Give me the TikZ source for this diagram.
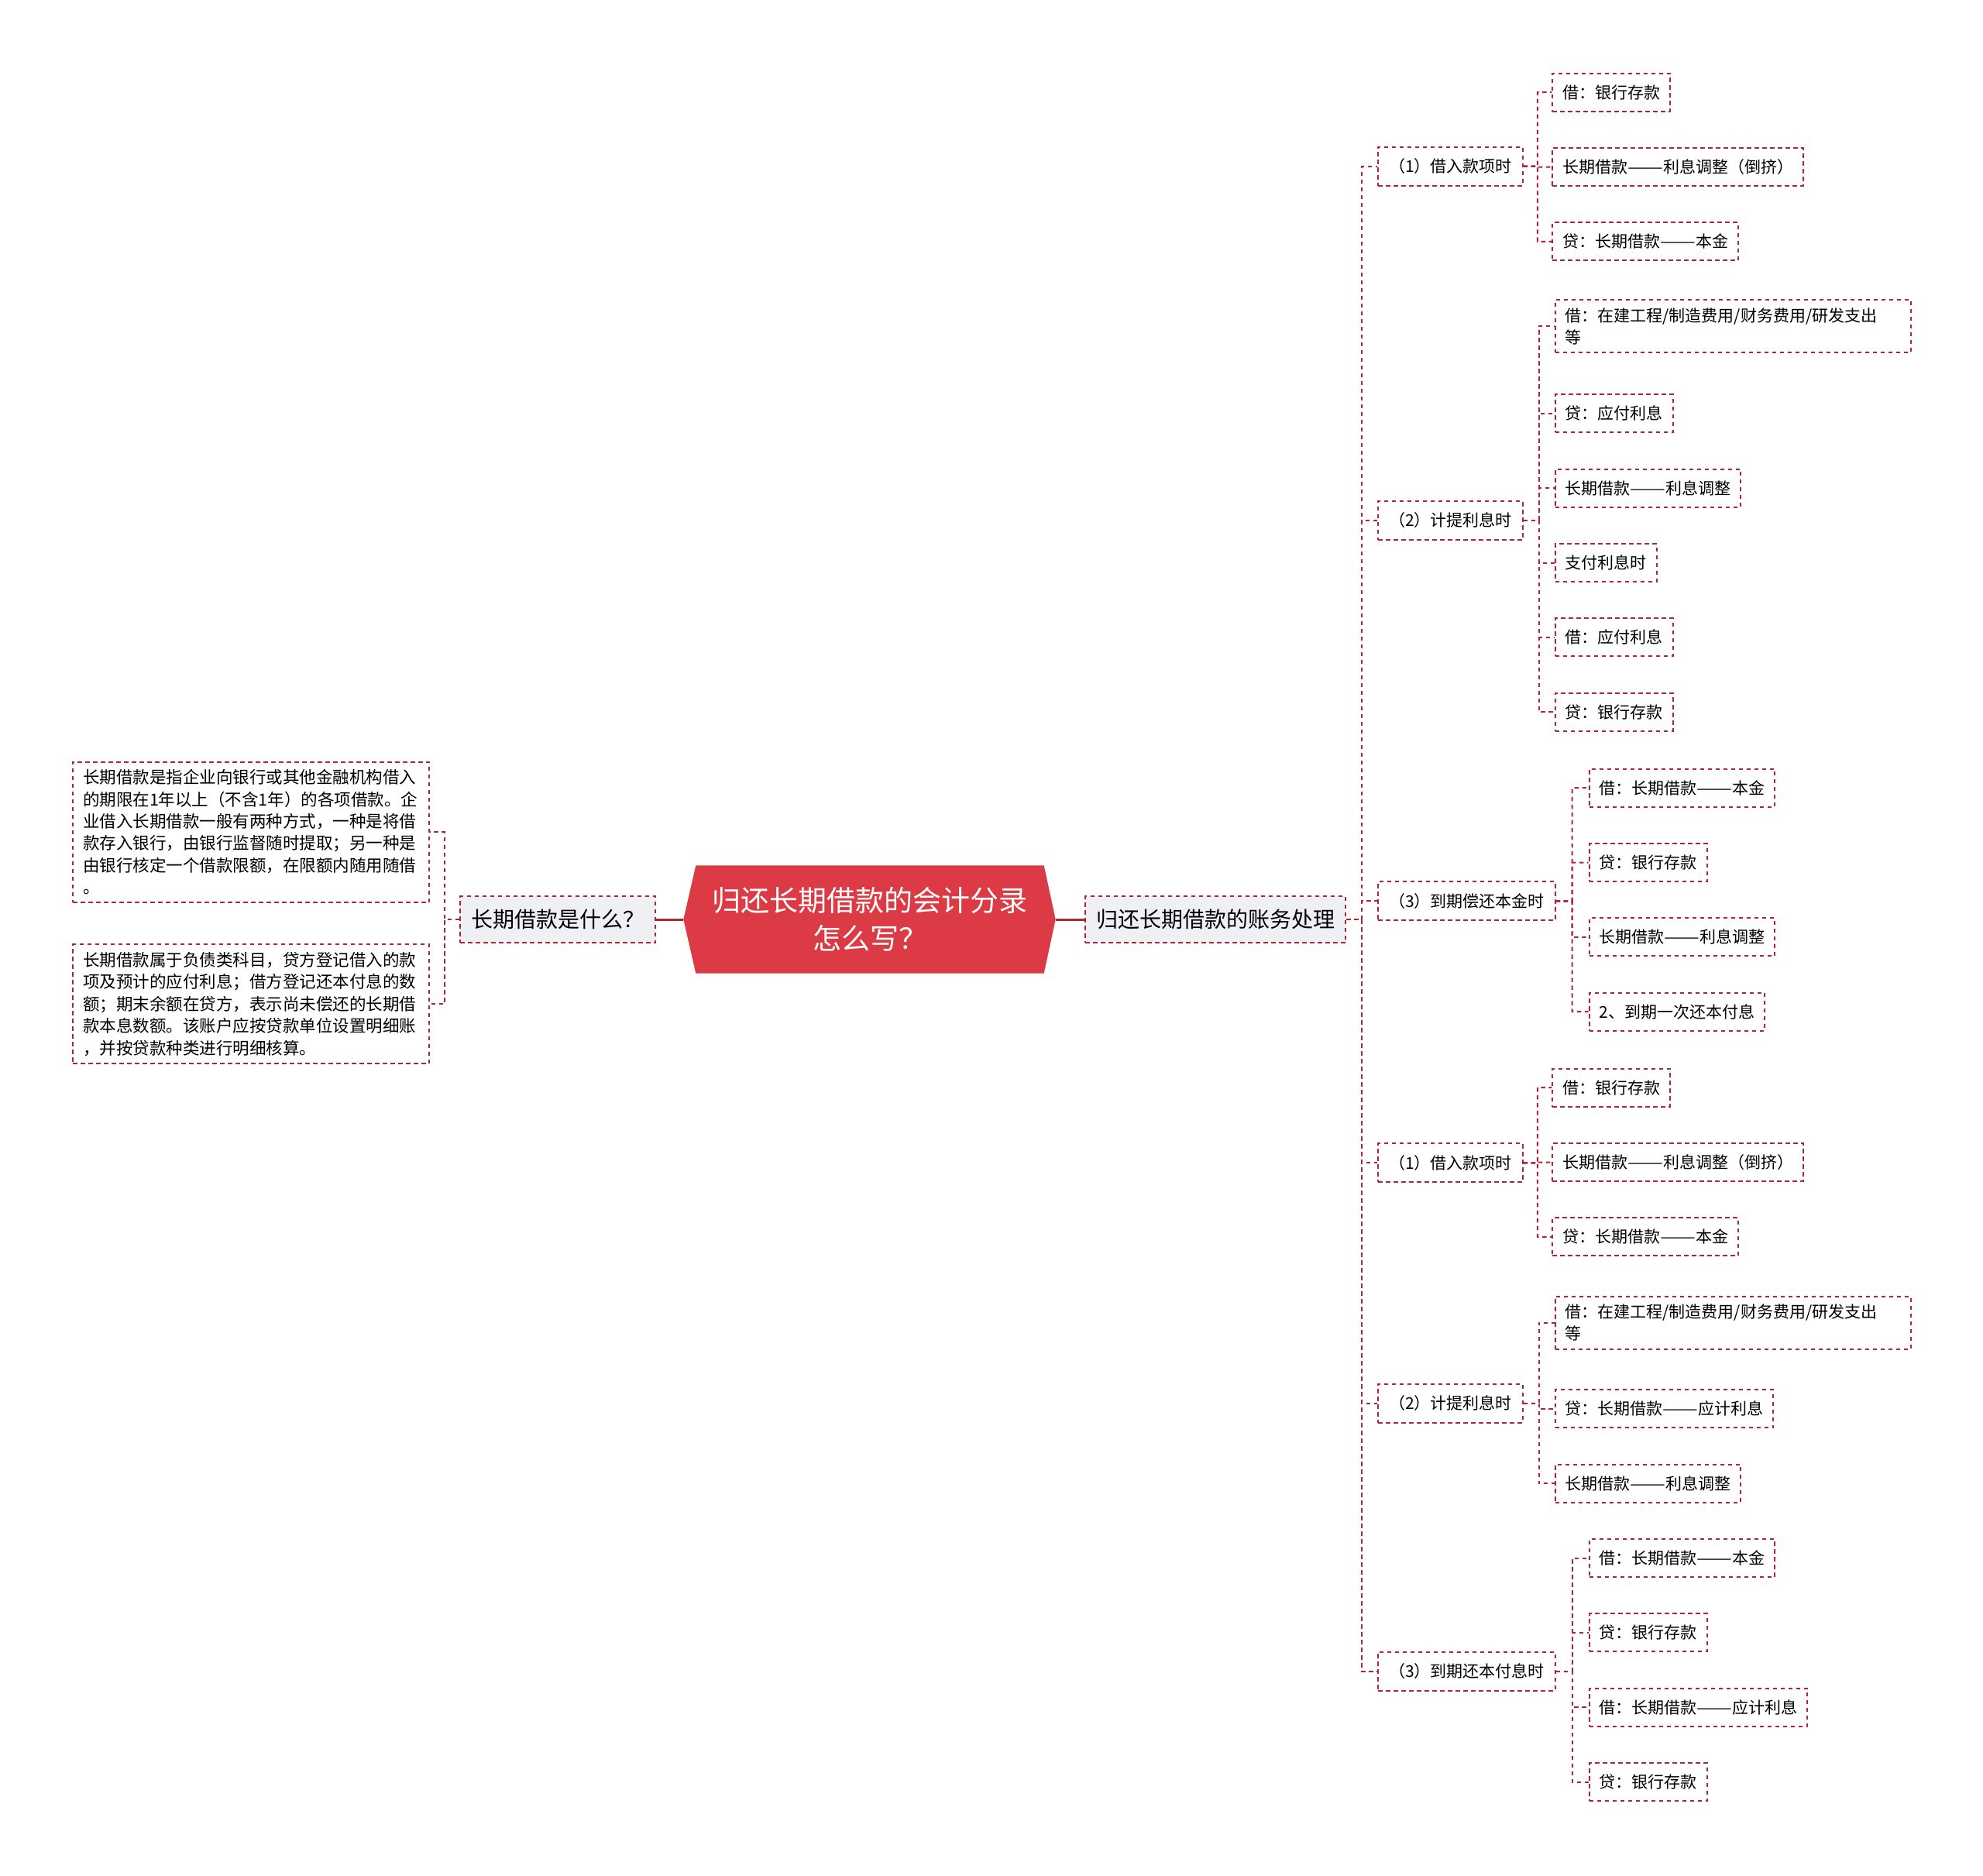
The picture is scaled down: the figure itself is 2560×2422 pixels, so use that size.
\documentclass[tikz,border=0pt]{standalone}
\usepackage{fontspec}
\setmainfont{Noto Sans CJK SC}
\usetikzlibrary{calc,backgrounds}
\definecolor{bord}{RGB}{176,36,54}
\definecolor{rootred}{RGB}{220,58,68}
\definecolor{lgray}{RGB}{238,240,244}
\newcommand\dd{\scalebox{1.3}[1]{——}}
\tikzset{
  box/.style={draw=bord, dash pattern=on 5.5pt off 4.5pt, line width=2pt, fill=white,
    inner xsep=13pt, inner ysep=0pt, minimum height=49pt, anchor=west,
    font=\fontsize{21}{28}\selectfont},
  lvtwo/.style={box, inner xsep=14pt, minimum height=50pt, font=\fontsize{21}{28}\selectfont},
  branch/.style={box, fill=lgray, inner xsep=14pt, minimum height=60pt, anchor=center,
    font=\fontsize{28}{34}\selectfont},
  desc/.style={box, align=left, inner ysep=10pt, text width=434pt,
    font=\fontsize{21.5}{28.4}\selectfont},
  twoline/.style={box, align=left, inner ysep=10.5pt, text width=433pt},
  conn/.style={draw=bord, dash pattern=on 5.5pt off 4.5pt, line width=2pt},
  solidconn/.style={draw=bord, line width=3pt},
  rootnode/.style={text=white, align=center, minimum width=449pt, minimum height=139pt,
    inner sep=0pt, font=\fontsize{37}{49}\selectfont}
}
\newcommand\elbowR[2]{\draw[conn] (#1.east) -- ($(#1.east)!.5!(#1.east -| #2.west)$) |- (#2.west);}
\newcommand\elbowL[2]{\draw[conn] (#1.west) -- ($(#1.west)!.5!(#1.west -| #2.east)$) |- (#2.east);}
\begin{document}
\begin{tikzpicture}[x=1pt,y=-1pt]
\useasboundingbox (0,0) rectangle (2560,2422);

% root
\node[rootnode] (root) at (1123,1187) {归还长期借款的会计分录\\怎么写？};
\begin{scope}[on background layer]
\fill[white] (0,0) rectangle (2560,2422);
\fill[rootred] (root.north west) -- (root.north east) -- ([xshift=15pt]root.east)
  -- (root.south east) -- (root.south west) -- ([xshift=-16pt]root.west) -- cycle;
\end{scope}

% main branches
\node[branch] (rb) at (1569,1187) {归还长期借款的账务处理};
\node[branch] (lb) at (720,1187) {长期借款是什么？};
\draw[solidconn] ([xshift=15pt]root.east) -- (rb.west);
\draw[solidconn] (lb.east) -- ([xshift=-16pt]root.west);

% left descriptions
\node[desc] (la) at (93,1074.3) {长期借款是指企业向银行或其他金融机构借入\\的期限在1年以上（不含1年）的各项借款。企\\业借入长期借款一般有两种方式，一种是将借\\款存入银行，由银行监督随时提取；另一种是\\由银行核定一个借款限额，在限额内随用随借\\。};
\node[desc] (lc) at (93,1296.4) {长期借款属于负债类科目，贷方登记借入的款\\项及预计的应付利息；借方登记还本付息的数\\额；期末余额在贷方，表示尚未偿还的长期借\\款本息数额。该账户应按贷款单位设置明细账\\，并按贷款种类进行明细核算。};
\elbowL{lb}{la}
\elbowL{lb}{lc}

% level 2
\node[lvtwo] (a1) at (1778,214.7) {（1）借入款项时};
\node[lvtwo] (a2) at (1778,671.9) {（2）计提利息时};
\node[lvtwo] (a3) at (1778,1163.3) {（3）到期偿还本金时};
\node[lvtwo] (a4) at (1778,1501.3) {（1）借入款项时};
\node[lvtwo] (a5) at (1778,1811.5) {（2）计提利息时};
\node[lvtwo] (a6) at (1778,2157.6) {（3）到期还本付息时};
\foreach \n in {a1,a2,a3,a4,a5,a6}{\elbowR{rb}{\n}}

% group 1
\node[box] (b11) at (2003.3,119.2) {借：银行存款};
\node[box] (b12) at (2003.3,215.5) {长期借款\dd 利息调整（倒挤）};
\node[box] (b13) at (2003.3,311.8) {贷：长期借款\dd 本金};
\foreach \n in {b11,b12,b13}{\elbowR{a1}{\n}}

% group 2
\node[twoline] (b21) at (2006.6,421.2) {借：在建工程/制造费用/财务费用/研发支出\\等};
\node[box] (b22) at (2006.6,533.9) {贷：应付利息};
\node[box] (b23) at (2006.6,630.2) {长期借款\dd 利息调整};
\node[box] (b24) at (2006.6,726.6) {支付利息时};
\node[box] (b25) at (2006.6,822.9) {借：应付利息};
\node[box] (b26) at (2006.6,919.2) {贷：银行存款};
\foreach \n in {b21,b22,b23,b24,b25,b26}{\elbowR{a2}{\n}}

% group 3
\node[box] (b31) at (2050.7,1017.2) {借：长期借款\dd 本金};
\node[box] (b32) at (2050.7,1113.5) {贷：银行存款};
\node[box] (b33) at (2050.7,1209.8) {长期借款\dd 利息调整};
\node[box] (b34) at (2050.7,1306.2) {2、到期一次还本付息};
\foreach \n in {b31,b32,b33,b34}{\elbowR{a3}{\n}}

% group 4
\node[box] (b41) at (2003.3,1404.1) {借：银行存款};
\node[box] (b42) at (2003.3,1500.5) {长期借款\dd 利息调整（倒挤）};
\node[box] (b43) at (2003.3,1596.8) {贷：长期借款\dd 本金};
\foreach \n in {b41,b42,b43}{\elbowR{a4}{\n}}

% group 5
\node[twoline] (b51) at (2006.6,1707.8) {借：在建工程/制造费用/财务费用/研发支出\\等};
\node[box] (b52) at (2006.6,1818.8) {贷：长期借款\dd 应计利息};
\node[box] (b53) at (2006.6,1915.2) {长期借款\dd 利息调整};
\foreach \n in {b51,b52,b53}{\elbowR{a5}{\n}}

% group 6
\node[box] (b61) at (2050.7,2011.5) {借：长期借款\dd 本金};
\node[box] (b62) at (2050.7,2107.8) {贷：银行存款};
\node[box] (b63) at (2050.7,2204.1) {借：长期借款\dd 应计利息};
\node[box] (b64) at (2050.7,2300.5) {贷：银行存款};
\foreach \n in {b61,b62,b63,b64}{\elbowR{a6}{\n}}
\end{tikzpicture}
\end{document}
